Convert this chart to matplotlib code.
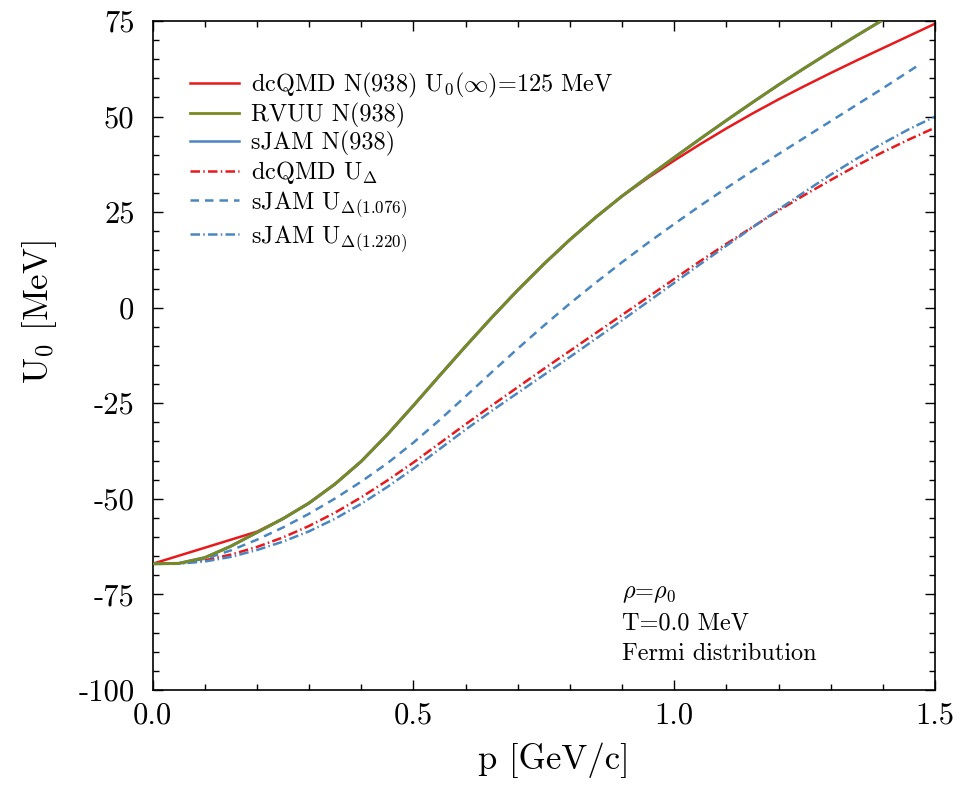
import matplotlib
matplotlib.use("Agg")
import matplotlib.pyplot as plt
from matplotlib.ticker import MultipleLocator

plt.rcParams["font.family"] = "serif"
plt.rcParams["font.serif"] = ["cmr10", "DejaVu Serif"]
plt.rcParams["mathtext.fontset"] = "cm"
plt.rcParams["axes.unicode_minus"] = False
plt.rcParams["axes.formatter.use_mathtext"] = False

# momentum grid (GeV/c)
p = [0.0, 0.05, 0.1, 0.15, 0.2, 0.25, 0.3, 0.35, 0.4, 0.45, 0.5, 0.55, 0.6, 0.65,
     0.7, 0.75, 0.8, 0.85, 0.9, 0.95, 1.0, 1.05, 1.1, 1.15, 1.2, 1.25, 1.3, 1.35,
     1.4, 1.45, 1.5]

# dcQMD N(938), U0(inf)=125 MeV
u_dcqmd_n = [-67.0, -64.9, -62.8, -60.7, -58.6, -55.2, -51.1, -46.1, -40.2, -33.2,
             -25.6, -17.8, -10.1, -2.6, 4.6, 11.4, 17.8, 23.7, 29.2, 34.0, 38.5, 42.8,
             46.9, 50.8, 54.5, 58.0, 61.4, 64.7, 67.9, 71.1, 74.3]

# RVUU N(938) and sJAM N(938) (practically on top of each other)
p_rvuu = [0.0, 0.05, 0.1, 0.15, 0.2, 0.25, 0.3, 0.35, 0.4, 0.45, 0.5, 0.55, 0.6,
          0.65, 0.7, 0.75, 0.8, 0.85, 0.9, 0.95, 1.0, 1.05, 1.1, 1.15, 1.2, 1.25,
          1.3, 1.35, 1.4]
u_rvuu = [-67.0, -66.9, -65.4, -62.4, -58.8, -55.2, -51.1, -46.1, -40.2, -33.2,
          -25.6, -17.8, -10.1, -2.6, 4.6, 11.4, 17.8, 23.7, 29.2, 34.3, 39.3, 44.2,
          49.0, 53.7, 58.3, 62.7, 67.0, 71.2, 75.3]
u_sjam_n = [-67.0, -66.9, -65.4, -62.4, -58.8, -55.2, -51.1, -46.1, -40.2, -33.2,
            -25.6, -17.8, -10.1, -2.6, 4.6, 11.4, 17.8, 23.7, 29.2, 34.3, 39.3, 44.2,
            49.0, 53.7, 58.3, 62.7, 67.0, 71.2, 75.3]

# dcQMD U_Delta
u_dcqmd_d = [-67.0, -66.9, -66.1, -64.6, -62.6, -60.1, -57.1, -53.6, -49.6, -45.2,
             -40.5, -35.5, -30.5, -25.6, -20.8, -16.0, -11.3, -6.6, -1.9, 2.8, 7.5,
             12.2, 16.7, 21.1, 25.4, 29.5, 33.4, 37.2, 40.7, 44.0, 47.1]

# sJAM U_Delta(1.076)
p_sjam_d1 = [0.0, 0.05, 0.1, 0.15, 0.2, 0.25, 0.3, 0.35, 0.4, 0.45, 0.5, 0.55, 0.6,
             0.65, 0.7, 0.75, 0.8, 0.85, 0.9, 0.95, 1.0, 1.05, 1.1, 1.15, 1.2, 1.25,
             1.3, 1.35, 1.4, 1.47]
u_sjam_d1 = [-67.0, -66.9, -65.7, -63.5, -60.7, -57.5, -53.9, -49.9, -45.5, -40.7,
             -35.3, -29.4, -23.2, -16.9, -10.7, -4.7, 1.1, 6.6, 11.9, 17.0, 21.9,
             26.7, 31.3, 35.8, 40.2, 44.5, 48.8, 53.1, 57.4, 63.6]

# sJAM U_Delta(1.220)
u_sjam_d2 = [-67.0, -67.0, -66.4, -65.2, -63.4, -61.2, -58.5, -55.2, -51.3, -46.9,
             -42.1, -37.0, -31.9, -27.0, -22.3, -17.6, -12.9, -8.1, -3.3, 1.6, 6.5,
             11.4, 16.2, 21.0, 25.7, 30.3, 34.8, 39.0, 43.0, 46.7, 50.0]

red = "#e8191c"
olive = "#7a8a1e"
blue = "#4a86bf"

fig = plt.figure(figsize=(9.6, 7.93), dpi=100)
ax = fig.add_axes([0.159, 0.130, 0.815, 0.8435])

ax.plot(p, u_dcqmd_n, color=red, lw=1.8, label=r"dcQMD N(938) U$_0(\infty)$=125 MeV")
ax.plot(p_rvuu, u_sjam_n, color=blue, lw=2.2, zorder=2)
ax.plot(p_rvuu, u_rvuu, color=olive, lw=2.0, label="RVUU N(938)", zorder=3)
ax.plot([], [], color=blue, lw=1.8, label="sJAM N(938)")
ax.plot(p, u_dcqmd_d, color=red, lw=1.8, dashes=(3.8, 1.3, 0.6, 1.3),
        label=r"dcQMD U$_\Delta$")
ax.plot(p_sjam_d1, u_sjam_d1, color=blue, lw=1.8, dashes=(3.4, 2.4),
        label=r"sJAM U$_{\Delta(1.076)}$")
ax.plot(p, u_sjam_d2, color=blue, lw=1.8, dashes=(3.8, 1.3, 0.6, 1.3),
        label=r"sJAM U$_{\Delta(1.220)}$")

ax.set_xlim(0, 1.5)
ax.set_ylim(-100, 75)
ax.xaxis.set_major_locator(MultipleLocator(0.5))
ax.xaxis.set_minor_locator(MultipleLocator(0.1))
ax.yaxis.set_major_locator(MultipleLocator(25))
ax.yaxis.set_minor_locator(MultipleLocator(5))
ax.tick_params(which="both", direction="in", top=True, right=True, width=1.0)
ax.tick_params(which="major", length=7, labelsize=22)
ax.tick_params(which="minor", length=4)
ax.tick_params(axis="x", pad=9)
ax.tick_params(axis="y", pad=13)
for s in ax.spines.values():
    s.set_linewidth(1.2)

ax.set_xlabel("p [GeV/c]", fontsize=25)
ax.set_ylabel(r"U$_0$ [MeV]", fontsize=25)
ax.xaxis.set_label_coords(0.513, -0.078)
ax.yaxis.set_label_coords(-0.12, 0.565)

ax.legend(loc="upper left", bbox_to_anchor=(0.02, 0.958), frameon=False,
          fontsize=17.5, handlelength=2.0, handletextpad=0.5, labelspacing=0.12)

ax.text(0.9, -72.0, "$\\rho$=$\\rho_0$\nT=0.0 MeV\nFermi distribution",
        fontsize=17.5, va="top", ha="left", linespacing=1.45)

fig.savefig("out.png", dpi=100)
